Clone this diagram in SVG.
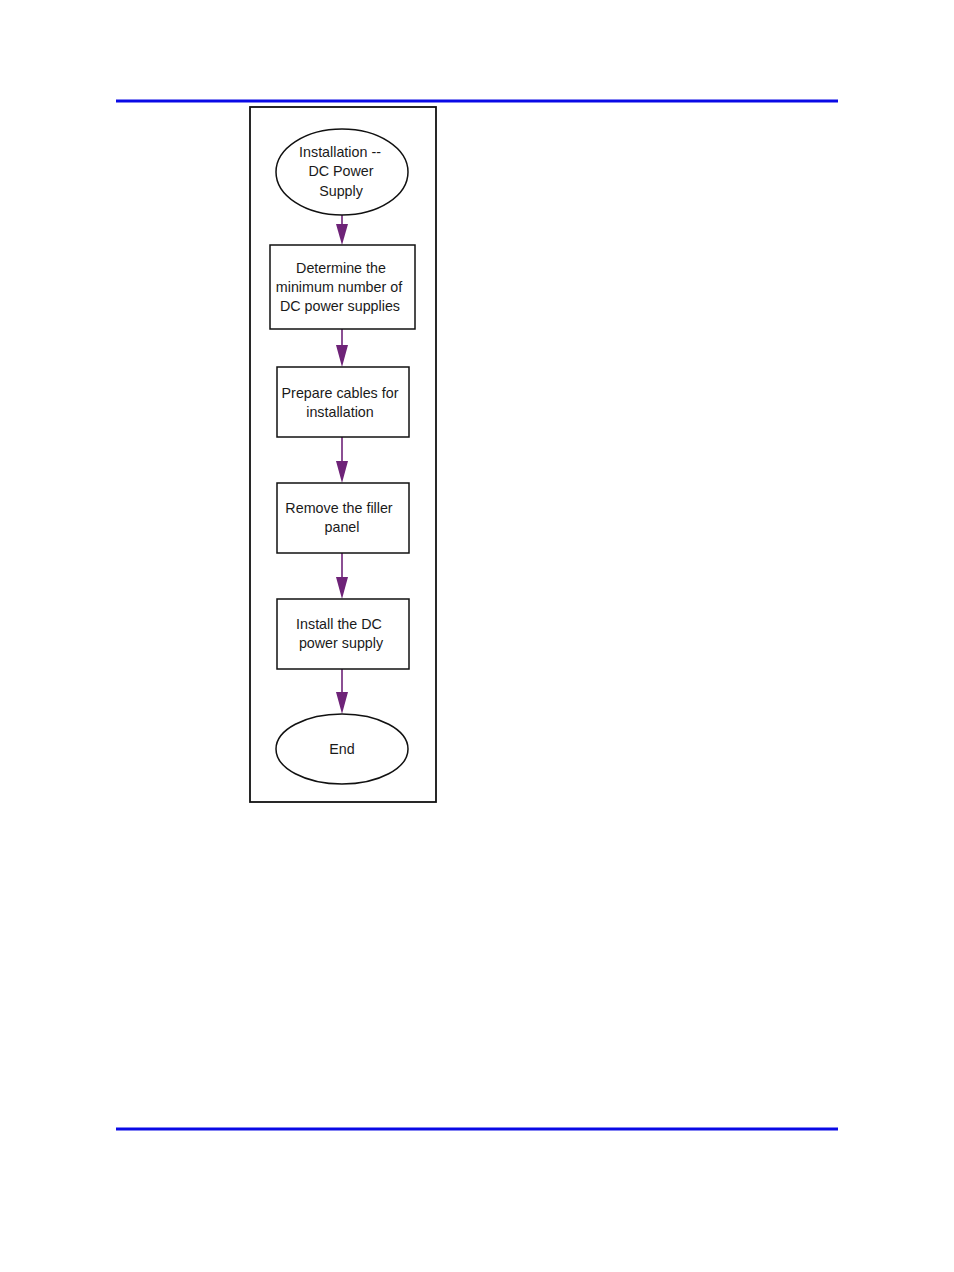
<svg xmlns="http://www.w3.org/2000/svg" width="954" height="1272" viewBox="0 0 954 1272">
<defs>
<style>
.n{fill:#fff;stroke:#111;stroke-width:1.5}
.t{font-family:"Liberation Sans",Arial,sans-serif;font-size:14.3px;fill:#1a1a1a;text-anchor:middle}
.c{stroke:#6e2378;stroke-width:1.6;fill:none}
.h{fill:#6e2378}
</style>
</defs>
<rect width="954" height="1272" fill="#fff"/>
<rect x="116" y="99.5" width="722" height="3" fill="#0a0ae6"/>
<rect x="116" y="1127.5" width="722" height="3" fill="#0a0ae6"/>
<rect x="250" y="107" width="186" height="695" fill="none" stroke="#111" stroke-width="1.8"/>
<g id="connectors">
<line class="c" x1="342" y1="215" x2="342" y2="230"/>
<polygon class="h" points="336,224 348,224 342,245"/>
<line class="c" x1="342" y1="329" x2="342" y2="350"/>
<polygon class="h" points="336,345 348,345 342,367"/>
<line class="c" x1="342" y1="437" x2="342" y2="465"/>
<polygon class="h" points="336,461 348,461 342,483"/>
<line class="c" x1="342" y1="553" x2="342" y2="580"/>
<polygon class="h" points="336,577 348,577 342,599"/>
<line class="c" x1="342" y1="669" x2="342" y2="696"/>
<polygon class="h" points="336,692 348,692 342,714"/>
</g>
<g id="start">
<ellipse class="n" cx="342" cy="172" rx="66" ry="43"/>
<text class="t" x="340" y="157">Installation --</text>
<text class="t" x="341" y="176">DC Power</text>
<text class="t" x="341" y="196">Supply</text>
</g>
<g id="determine">
<rect class="n" x="270" y="245" width="145" height="84"/>
<text class="t" x="341" y="273">Determine the</text>
<text class="t" x="339" y="292">minimum number of</text>
<text class="t" x="340" y="311">DC power supplies</text>
</g>
<g id="prepare">
<rect class="n" x="277" y="367" width="132" height="70"/>
<text class="t" x="340" y="398">Prepare cables for</text>
<text class="t" x="340" y="417">installation</text>
</g>
<g id="remove">
<rect class="n" x="277" y="483" width="132" height="70"/>
<text class="t" x="339" y="513">Remove the filler</text>
<text class="t" x="342" y="532">panel</text>
</g>
<g id="install">
<rect class="n" x="277" y="599" width="132" height="70"/>
<text class="t" x="339" y="629">Install the DC</text>
<text class="t" x="341" y="648">power supply</text>
</g>
<g id="end">
<ellipse class="n" cx="342" cy="749" rx="66" ry="35"/>
<text class="t" x="342" y="754">End</text>
</g>
</svg>
